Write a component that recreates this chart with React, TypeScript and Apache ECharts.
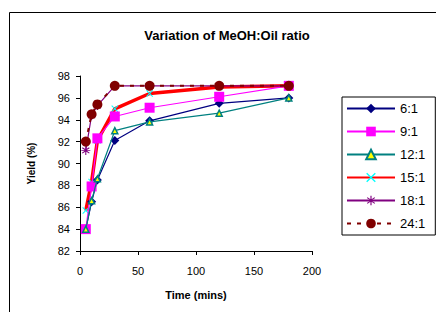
import React, { useEffect, useRef } from "react";
import * as echarts from "echarts";

const times = [5, 10, 15, 30, 60, 120, 180];
const seriesNames = ["6:1", "9:1", "12:1", "15:1", "18:1", "24:1"];
const yield6 = [84, 86.5, 88.5, 92.1, 93.9, 95.5, 96];
const yield9 = [84, 87.9, 92.3, 94.3, 95.1, 96.1, 97.1];
const yield12 = [84, 86.6, 88.6, 93, 93.8, 94.6, 96];
const yield15 = [85.7, 88.3, 92.1, 95, 96.4, 97, 97.1];
const yield18 = [91.2, 94.4, 95.3, 97.1, 97.1, 97.1, 97.1];
const yield24 = [92, 94.5, 95.4, 97.1, 97.1, 97.1, 97.1];
const yTicks = [82, 84, 86, 88, 90, 92, 94, 96, 98];
const xTicks = [0, 50, 100, 150, 200];

const pair = (v: number[]) => times.map((t, i) => [t, v[i]]);

const X_PATH = "path://M0,1L1,0L5,4L9,0L10,1L6,5L10,9L9,10L5,6L1,10L0,9L4,5Z";
const STAR_PATH =
  "path://M4.4,0H5.6V3.6L8.6,1.5L9.3,2.5L6.2,4.5H10V5.5H6.2L9.3,7.5L8.6,8.5L5.6,6.4V10H4.4V6.4L1.4,8.5L0.7,7.5L3.8,5.5H0V4.5H3.8L0.7,2.5L1.4,1.5L4.4,3.6Z";

export default function App() {
  const ref = useRef<HTMLDivElement>(null);
  useEffect(() => {
    if (!ref.current) return;
    const chart = echarts.init(ref.current, undefined, { renderer: "svg" });
    const font = "Arial, 'Liberation Sans', sans-serif";
    chart.setOption({
      animation: false,
      backgroundColor: "#ffffff",
      title: {
        text: "Variation of MeOH:Oil ratio",
        left: 222,
        textAlign: "center",
        top: 24,
        textStyle: { fontFamily: font, fontSize: 13, fontWeight: "bold", color: "#000" },
      },
      graphic: [
        {
          type: "rect",
          shape: { x: 9.5, y: 12.5, width: 440, height: 310 },
          style: { fill: "none", stroke: "#000", lineWidth: 1 },
          silent: true,
        },
      ],
      legend: {
        orient: "vertical",
        left: 342,
        top: 97,
        width: 85,
        itemWidth: 48,
        itemHeight: 12,
        itemGap: 10,
        padding: [5, 10, 5, 4],
        borderColor: "#000",
        borderWidth: 1,
        data: seriesNames,
        textStyle: { fontFamily: font, fontSize: 13, color: "#000" },
      },
      grid: { left: 80, right: 124, top: 76, bottom: 61 },
      xAxis: {
        type: "value",
        min: xTicks[0],
        max: xTicks[xTicks.length - 1],
        interval: 50,
        name: "Time (mins)",
        nameLocation: "middle",
        nameGap: 38,
        nameTextStyle: { fontFamily: font, fontSize: 11, fontWeight: "bold", color: "#000" },
        axisLine: { show: true, onZero: false, lineStyle: { color: "#000", width: 1 } },
        axisTick: { show: true, length: 4, lineStyle: { color: "#000" } },
        axisLabel: { fontFamily: font, fontSize: 11, color: "#000", margin: 14 },
        splitLine: { show: false },
      },
      yAxis: {
        type: "value",
        min: yTicks[0],
        max: yTicks[yTicks.length - 1],
        interval: 2,
        name: "Yield (%)",
        nameLocation: "middle",
        nameGap: 44,
        nameTextStyle: { fontFamily: font, fontSize: 10, fontWeight: "bold", color: "#000" },
        axisLine: { show: true, lineStyle: { color: "#000", width: 1 } },
        axisTick: { show: true, length: 4, lineStyle: { color: "#000" } },
        axisLabel: { fontFamily: font, fontSize: 11, color: "#000", margin: 10 },
        splitLine: { show: false },
      },
      series: [
        {
          name: seriesNames[0],
          type: "line",
          data: pair(yield6),
          symbol: "diamond",
          symbolSize: 9,
          itemStyle: { color: "#000080" },
          lineStyle: { color: "#000080", width: 1.2 },
          z: 3,
        },
        {
          name: seriesNames[1],
          type: "line",
          data: pair(yield9),
          symbol: "rect",
          symbolSize: 10,
          itemStyle: { color: "#FF00FF" },
          lineStyle: { color: "#FF00FF", width: 1.2 },
          z: 4,
        },
        {
          name: seriesNames[2],
          type: "line",
          data: pair(yield12),
          symbol: "triangle",
          symbolSize: 6,
          itemStyle: { color: "#FFFF00", borderColor: "#008080", borderWidth: 1.5 },
          lineStyle: { color: "#008080", width: 1.2 },
          z: 5,
        },
        {
          name: seriesNames[3],
          type: "line",
          data: pair(yield15),
          symbol: X_PATH,
          symbolSize: 7,
          itemStyle: { color: "#00FFFF" },
          lineStyle: { color: "#FF0000", width: 3.5 },
          z: 2,
        },
        {
          name: seriesNames[4],
          type: "line",
          data: pair(yield18),
          symbol: STAR_PATH,
          symbolSize: 9,
          itemStyle: { color: "#800080" },
          lineStyle: { color: "#800080", width: 1.2 },
          z: 6,
        },
        {
          name: seriesNames[5],
          type: "line",
          data: pair(yield24),
          symbol: "circle",
          symbolSize: 10,
          itemStyle: { color: "#800000" },
          lineStyle: { color: "#800000", width: 2, type: [4, 6] },
          z: 7,
        },
      ],
    });
    return () => chart.dispose();
  }, []);
  return (
    <div
      ref={ref}
      style={{ position: "absolute", left: 0, top: 0, width: 436, height: 312 }}
    />
  );
}
